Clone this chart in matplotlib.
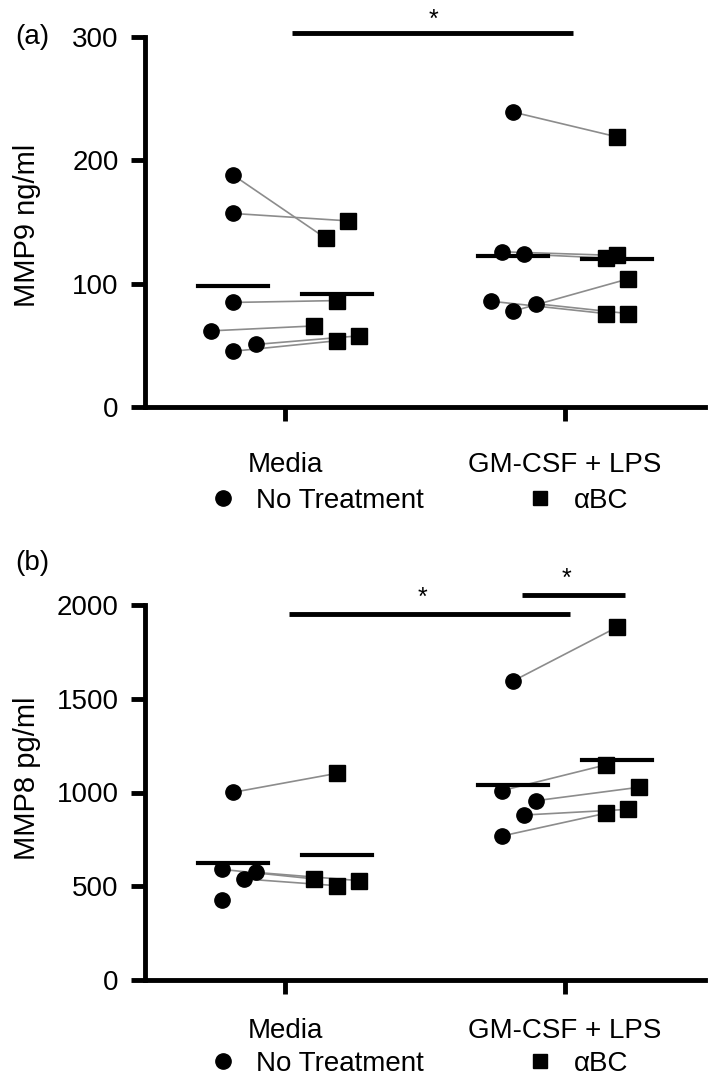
import numpy as np
import matplotlib.pyplot as plt
from matplotlib.lines import Line2D

plt.rcParams['font.family'] = ['Liberation Sans', 'DejaVu Sans']

# Datos
grupos = ['Media', 'GM-CSF + LPS']

# (a) MMP9 ng/ml  -- pares: sin tratamiento -> aBC
a_media_nt = [188, 157, 85, 62, 45.5, 51]
a_media_bc = [137, 151, 86.5, 66, 54, 58]
a_gm_nt = [239, 126, 124, 86, 78, 84]
a_gm_bc = [219, 123, 121, 76, 104, 76]

# (b) MMP8 pg/ml (el ultimo punto de Media sin pareja)
b_media_nt = [1001, 590, 574, 539, 427]
b_media_bc = [1102, 539, 530, 503]
b_gm_nt = [1595, 1010, 956, 880, 768]
b_gm_bc = [1881, 1147, 1028, 910, 889]

# desplazamiento horizontal de cada punto dentro del grupo
a_jit_media_nt = [0, 0, 0, -0.08, 0, 0.08]
a_jit_media_bc = [-0.04, 0.04, 0, -0.08, 0, 0.08]
a_jit_gm_nt = [0, -0.04, 0.04, -0.08, 0, 0.08]
a_jit_gm_bc = [0, 0, -0.04, -0.04, 0.04, 0.04]
b_jit_media_nt = [0, -0.04, 0.08, 0.04, -0.04]
b_jit_media_bc = [0, -0.08, 0.08, 0]
b_jit_gm_nt = [0, -0.04, 0.08, 0.04, -0.04]
b_jit_gm_bc = [0, -0.04, 0.08, 0.04, -0.04]

# barras de significancia: (x0, x1, y, x_estrella, y_estrella)
a_sig = [(1.025, 2.028, 303, 1.53, 314)]
b_sig = [(1.014, 2.018, 1950, 1.49, 2040), (1.847, 2.214, 2052, 2.007, 2142)]

FS = 20
LW = 3.5
OFF = 0.185


def panel(ax, datos, jits, sig, yticks, ylim, pad_x):
    (m_nt, m_bc, g_nt, g_bc) = datos
    (jm_nt, jm_bc, jg_nt, jg_bc) = jits
    for i, (nt, bc, j_nt, j_bc) in enumerate([(m_nt, m_bc, jm_nt, jm_bc),
                                               (g_nt, g_bc, jg_nt, jg_bc)]):
        c = i + 1
        x_nt = c - OFF + np.array(j_nt)
        x_bc = c + OFF + np.array(j_bc)
        # lineas que unen cada par
        for k in range(min(len(nt), len(bc))):
            ax.plot([x_nt[k], x_bc[k]], [nt[k], bc[k]], color='#8c8c8c', lw=1.2, zorder=2)
        ax.plot(x_nt, nt, 'o', color='black', ms=11, zorder=3, clip_on=False)
        ax.plot(x_bc, bc, 's', color='black', ms=11, zorder=3, clip_on=False)
        # media
        ax.plot([c - OFF - 0.125, c - OFF + 0.125], [np.mean(nt)] * 2, color='black', lw=3, zorder=4)
        ax.plot([c + OFF - 0.125, c + OFF + 0.125], [np.mean(bc)] * 2, color='black', lw=3, zorder=4)

    for x0, x1, y, xs, ys in sig:
        ax.plot([x0, x1], [y, y], color='black', lw=LW, clip_on=False, solid_capstyle='butt')
        ax.text(xs, ys, '*', ha='center', va='center', fontsize=18, clip_on=False)

    ax.set_xlim(0.5, 2.5)
    ax.set_ylim(*ylim)
    ax.set_yticks(yticks)
    ax.set_xticks([1, 2])
    ax.set_xticklabels(grupos)
    for s in ['top', 'right']:
        ax.spines[s].set_visible(False)
    for s in ['left', 'bottom']:
        ax.spines[s].set_linewidth(LW)
    ax.tick_params(axis='both', width=LW, length=10, labelsize=FS)
    ax.tick_params(axis='y', pad=9)
    ax.tick_params(axis='x', pad=pad_x)


fig = plt.figure(figsize=(7.09, 10.82), dpi=100)
W, H = 709, 1082

ax1 = fig.add_axes([145 / W, 1 - 407.5 / H, 560 / W, 370.8 / H])
panel(ax1, (a_media_nt, a_media_bc, a_gm_nt, a_gm_bc),
      (a_jit_media_nt, a_jit_media_bc, a_jit_gm_nt, a_jit_gm_bc),
      a_sig, [0, 100, 200, 300], (0, 300), 22)

ax2 = fig.add_axes([145 / W, 1 - 980 / H, 560 / W, 375 / H])
panel(ax2, (b_media_nt, b_media_bc, b_gm_nt, b_gm_bc),
      (b_jit_media_nt, b_jit_media_bc, b_jit_gm_nt, b_jit_gm_bc),
      b_sig, [0, 500, 1000, 1500, 2000], (0, 2000), 17)

fig.text(27 / W, 1 - 225 / H, 'MMP9 ng/ml', rotation=90, ha='center', va='center', fontsize=21)
fig.text(27 / W, 1 - 778 / H, 'MMP8 pg/ml', rotation=90, ha='center', va='center', fontsize=21)
fig.text(15 / W, 1 - 37 / H, '(a)', ha='left', va='center', fontsize=FS)
fig.text(15 / W, 1 - 563 / H, '(b)', ha='left', va='center', fontsize=FS)

handles = [Line2D([], [], marker='o', ls='', color='black', ms=11),
           Line2D([], [], marker='s', ls='', color='black', ms=10)]
for ypix in [501, 1064]:
    fig.legend(handles, ['No Treatment', 'αBC'], loc='center left',
               bbox_to_anchor=(209 / W, 1 - ypix / H), ncol=2, frameon=False,
               fontsize=FS, handlelength=1.0, handletextpad=0.69,
               columnspacing=3.7, borderpad=0, borderaxespad=0)

plt.savefig('out.png', dpi=100)
